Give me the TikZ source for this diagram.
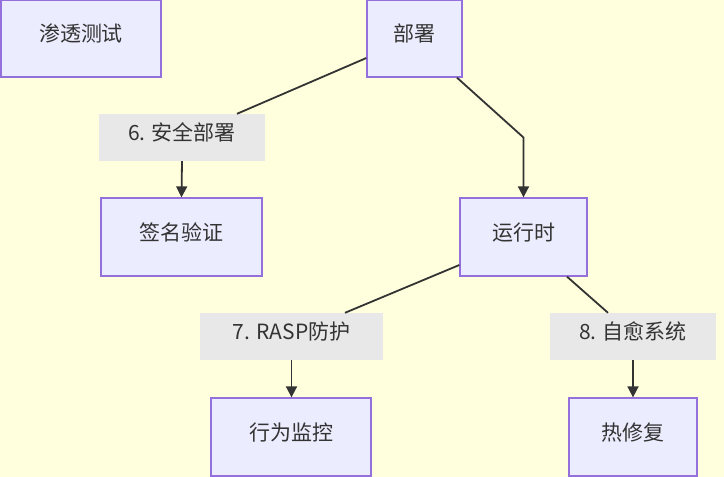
\documentclass[tikz,border=0pt]{standalone}
\usepackage{fontspec}
\setmainfont{Noto Sans CJK SC}
\usetikzlibrary{arrows.meta}
\definecolor{bgc}{HTML}{FFFFDE}
\definecolor{nodefill}{HTML}{ECECFF}
\definecolor{nodeline}{HTML}{9370DB}
\definecolor{lblfill}{HTML}{E8E8E8}
\definecolor{ink}{HTML}{333333}
\tikzset{
  box/.style={draw=nodeline, fill=nodefill, line width=1.3pt, text=ink, inner sep=0pt,
    font=\fontsize{21}{25}\selectfont, text height=14pt, text depth=8pt},
  lbl/.style={fill=lblfill, draw=none, text=ink, inner sep=0pt,
    font=\fontsize{21}{25}\selectfont, text height=14pt, text depth=8pt},
  conn/.style={draw=ink, line width=1.8pt},
  arr/.style={conn, -{Triangle[length=11pt,width=11pt]}}
}
\begin{document}
\begin{tikzpicture}[x=1pt,y=-1pt]
\fill[bgc] (0,0) rectangle (724,477);
\useasboundingbox (0,0) rectangle (724,477);
\node[box, minimum width=160pt, minimum height=77pt] (pt) at (81,38.5) {渗透测试};
\node[box, minimum width=95pt, minimum height=77pt] (bs) at (414.5,38.5) {部署};
\node[box, minimum width=161pt, minimum height=78pt] (sig) at (181.5,237) {签名验证};
\node[box, minimum width=127pt, minimum height=78pt] (rt) at (523.5,237) {运行时};
\node[box, minimum width=160pt, minimum height=78pt] (bw) at (291,437) {行为监控};
\node[box, minimum width=128pt, minimum height=78pt] (hx) at (633,437) {热修复};
\node[lbl, minimum width=166pt, minimum height=47pt] (l6) at (182,137.5) {6. 安全部署};
\node[lbl, minimum width=183pt, minimum height=47pt] (l7) at (291.5,336.5) {7. RASP防护};
\node[lbl, minimum width=166pt, minimum height=47pt] (l8) at (633,336.5) {8. 自愈系统};
\draw[conn] ([yshift=-19.5pt]bs.west) -- ([xshift=55pt]l6.north);
\draw[arr] (l6.south) -- (sig.north);
\draw[arr] ([xshift=42.5pt]bs.south) -- (rt.north |- l6.center) -- (rt.north);
\draw[conn] ([yshift=-28pt]rt.west) -- ([xshift=53.5pt]l7.north);
\draw[arr] (l7.south) -- (l7.south |- bw.north);
\draw[conn] ([xshift=43.5pt]rt.south) -- ([xshift=-25pt]l8.north);
\draw[arr] (l8.south) -- (hx.north);
\end{tikzpicture}
\end{document}
